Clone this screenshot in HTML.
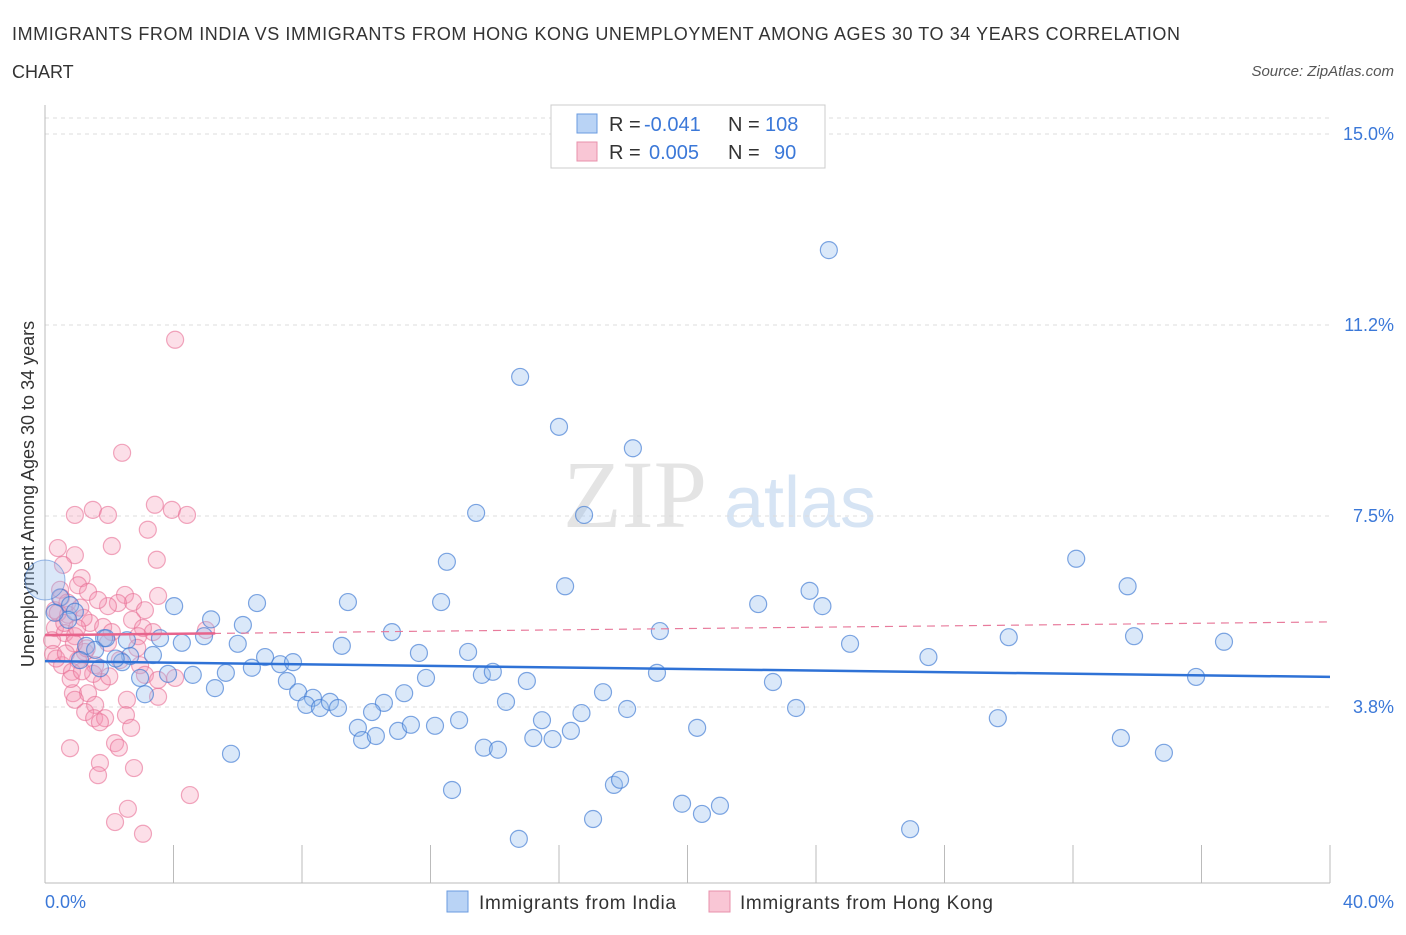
<!DOCTYPE html>
<html><head><meta charset="utf-8"><style>
body{margin:0;background:#fff;font-family:"Liberation Sans",sans-serif;}
svg text{font-family:"Liberation Sans",sans-serif;}
</style></head><body>
<svg id="chart" width="1406" height="930" xmlns="http://www.w3.org/2000/svg">
<text x="12" y="40" font-size="18" fill="#333" textLength="1168" lengthAdjust="spacing">IMMIGRANTS FROM INDIA VS IMMIGRANTS FROM HONG KONG UNEMPLOYMENT AMONG AGES 30 TO 34 YEARS CORRELATION</text>
<text x="12" y="78" font-size="18" fill="#333">CHART</text>
<text x="1394" y="76" font-size="15" fill="#555" text-anchor="end" font-style="italic">Source: ZipAtlas.com</text>
<text x="635" y="527" font-size="96" fill="#e4e4e4" text-anchor="middle" style="font-family:'Liberation Serif',serif">ZIP</text>
<text x="800" y="527" font-size="72" fill="#d6e4f4" text-anchor="middle">atlas</text>
<g id="grid"></g>
<line x1="45" y1="105" x2="45" y2="883" stroke="#bbb"/>
<line x1="45" y1="883" x2="1330" y2="883" stroke="#bbb"/>
<g id="xticks"></g>
<text x="45" y="908" font-size="18" fill="#3b78d8">0.0%</text>
<text x="1394" y="908" font-size="18" fill="#3b78d8" text-anchor="end">40.0%</text>
<text transform="translate(34,494) rotate(-90)" font-size="18" fill="#333" text-anchor="middle">Unemployment Among Ages 30 to 34 years</text>
<g id="pts"></g>
<g id="lines"></g>
<g>
<rect x="551" y="105" width="274" height="63" fill="#fff" stroke="#ccc"/>
<rect x="577" y="114" width="20" height="19" fill="#b9d3f5" stroke="#6a9be0"/>
<rect x="577" y="142" width="20" height="19" fill="#f9c6d5" stroke="#e890ab"/>
<text y="131" font-size="20" fill="#333"><tspan x="609">R =</tspan><tspan x="644" fill="#3b78d8">-0.041</tspan><tspan x="728">N =</tspan><tspan x="765" fill="#3b78d8">108</tspan></text>
<text y="159" font-size="20" fill="#333"><tspan x="609">R =</tspan><tspan x="649" fill="#3b78d8">0.005</tspan><tspan x="728">N =</tspan><tspan x="774" fill="#3b78d8">90</tspan></text>
</g>
<g>
<rect x="447" y="891" width="21" height="21" fill="#b9d3f5" stroke="#6a9be0"/>
<text x="479" y="909" font-size="19" fill="#333" textLength="197">Immigrants from India</text>
<rect x="709" y="891" width="21" height="21" fill="#f9c6d5" stroke="#e890ab"/>
<text x="740" y="909" font-size="19" fill="#333" textLength="253">Immigrants from Hong Kong</text>
</g>
</svg>
<script>
const yTicks=[3.75,7.5,11.25,15];
const yTickLabels=["3.8%","7.5%","11.2%","15.0%"];
const xTicks=[0,4,8,12,16,20,24,28,32,36,40];
const indiaX=[24.4,14.79,16.0,18.3,13.42,16.78,12.51,32.1,16.19,33.7,12.33,9.43,4.02,6.6,22.2,23.8,24.2,5.17,6.16,19.14,30.0,33.9,36.7,10.8,25.06,27.5,9.24,11.64,13.17,6.0,4.26,3.58,4.95,2.55,1.84,1.28,2.65,3.36,6.85,7.32,7.72,6.44,5.63,3.83,4.6,7.53,2.96,3.11,5.29,7.88,8.34,8.13,8.56,8.87,9.12,10.55,10.18,9.74,9.87,10.3,10.99,11.39,11.18,11.86,13.6,13.94,15.0,14.35,12.89,12.14,13.66,14.1,15.2,15.47,15.8,16.37,16.7,17.37,18.12,19.05,20.3,22.66,23.38,29.66,33.49,34.83,35.83,5.79,12.67,17.71,17.9,19.83,21.01,20.45,17.06,14.75,26.93,0.47,0.78,0.93,0.72,1.56,1.09,2.4,1.71,0.3,1.9,2.2];
const indiaY=[12.72,10.23,9.25,8.83,7.56,7.52,6.6,6.66,6.12,6.12,5.81,5.81,5.73,5.79,5.77,6.03,5.73,5.47,5.36,5.24,5.12,5.14,5.03,5.22,4.99,4.73,4.95,4.81,4.83,4.99,5.01,5.1,5.14,5.06,5.1,4.95,4.75,4.77,4.73,4.59,4.63,4.52,4.42,4.4,4.38,4.26,4.32,4.0,4.12,4.04,3.93,3.79,3.73,3.85,3.73,3.83,3.65,3.34,3.1,3.18,3.28,3.4,4.02,4.32,4.38,4.44,4.26,3.85,3.49,3.38,2.95,2.91,3.14,3.49,3.12,3.28,3.63,4.04,3.71,4.42,3.34,4.24,3.73,3.53,3.14,2.85,4.34,2.83,2.12,2.22,2.32,1.85,1.81,1.65,1.55,1.16,1.35,5.9,5.75,5.62,5.46,4.87,4.67,4.63,4.51,5.6,5.1,4.7];
const hkX=[4.05,2.4,3.42,3.95,4.42,0.93,1.49,1.96,3.2,2.08,0.4,0.93,3.48,0.56,1.14,1.03,0.47,1.34,2.49,3.52,2.74,2.27,1.96,1.65,3.11,0.31,0.72,2.71,1.4,1.81,3.05,0.31,0.62,2.08,5.01,3.36,2.9,0.93,0.22,1.96,1.24,0.25,2.87,1.03,0.53,1.56,2.33,2.96,3.11,0.84,3.52,4.05,1.77,0.87,1.34,3.52,0.93,1.56,1.25,2.55,1.53,1.87,1.71,2.52,2.68,2.18,0.78,2.3,1.71,1.65,2.77,4.51,2.58,2.18,3.05,0.5,0.7,1.1,1.2,0.4,0.6,1.0,0.9,1.3,0.35,1.5,2.0,0.8,1.15,0.65];
const hkY=[10.96,8.74,7.72,7.62,7.52,7.52,7.62,7.52,7.23,6.91,6.87,6.73,6.64,6.54,6.28,6.14,6.05,6.01,5.95,5.93,5.81,5.79,5.73,5.85,5.65,5.65,5.56,5.46,5.4,5.32,5.3,5.3,5.2,5.22,5.26,5.22,5.14,5.14,5.06,5.01,4.83,4.79,4.91,4.67,4.57,4.57,4.67,4.57,4.38,4.44,4.28,4.32,4.24,4.02,4.02,3.95,3.89,3.79,3.65,3.89,3.53,3.53,3.45,3.59,3.34,3.04,2.94,2.95,2.65,2.41,2.55,2.02,1.75,1.49,1.26,5.9,5.8,5.7,5.5,5.6,5.4,5.3,5.0,4.9,4.7,4.4,4.35,4.3,4.45,4.8];
const indiaLine=[4.65,4.34];
const hkLine=[5.16,5.42];
const NS="http://www.w3.org/2000/svg";
const xs=v=>45+v*32.125, ys=v=>134+(15-v)*50.93;
function mk(tag,attrs,parent){const e=document.createElementNS(NS,tag);for(const k in attrs)e.setAttribute(k,attrs[k]);document.getElementById(parent).appendChild(e);return e;}
yTicks.forEach((t,i)=>{
 const l=mk('line',{x1:45,x2:1330,y1:ys(t),y2:ys(t),stroke:'#ddd','stroke-dasharray':'4,4'},'grid');
 
 
 const tx=mk('text',{x:1394,y:ys(t)+6,'font-size':18,fill:'#3b78d8','text-anchor':'end'},'grid');
 tx.textContent=yTickLabels[i];
 
 
});
mk('line',{x1:45,x2:1330,y1:118,y2:118,stroke:'#ddd','stroke-dasharray':'4,4'},'grid');
xTicks.forEach(t=>{
 const l=mk('line',{x1:xs(t),x2:xs(t),y1:845,y2:883,stroke:'#bbb'},'xticks');
 
 
});
hkX.forEach((x,i)=>{
 const c=mk('circle',{cx:xs(x),cy:ys(hkY[i]),r:8.5,fill:'rgba(244,150,178,0.3)',stroke:'rgba(232,110,148,0.6)','stroke-width':1.2},'pts');
 
 
});
indiaX.forEach((x,i)=>{
 const c=mk('circle',{cx:xs(x),cy:ys(indiaY[i]),r:8.5,fill:'rgba(150,190,238,0.35)',stroke:'rgba(60,120,210,0.65)','stroke-width':1.2},'pts');
 
 
});
const big=mk('circle',{cx:45,cy:580,r:20,fill:'rgba(150,190,238,0.35)',stroke:'rgba(60,120,210,0.5)'},'pts');


const l1=mk('line',{x1:xs(0),x2:xs(40),y1:ys(indiaLine[0]),y2:ys(indiaLine[1]),stroke:'#2f72d6','stroke-width':2.5},'lines');


const l2=mk('line',{x1:xs(0),x2:xs(40),y1:ys(hkLine[0]),y2:ys(hkLine[1]),stroke:'#e87b9c','stroke-width':1.2,'stroke-dasharray':'8,6'},'lines');


const l3=mk('line',{x1:xs(0),x2:xs(5.3),y1:ys(hkLine[0]),y2:ys(hkLine[0]+(hkLine[1]-hkLine[0])*5.3/40),stroke:'#e8648c','stroke-width':2.5},'lines');


</script>
</body></html>
